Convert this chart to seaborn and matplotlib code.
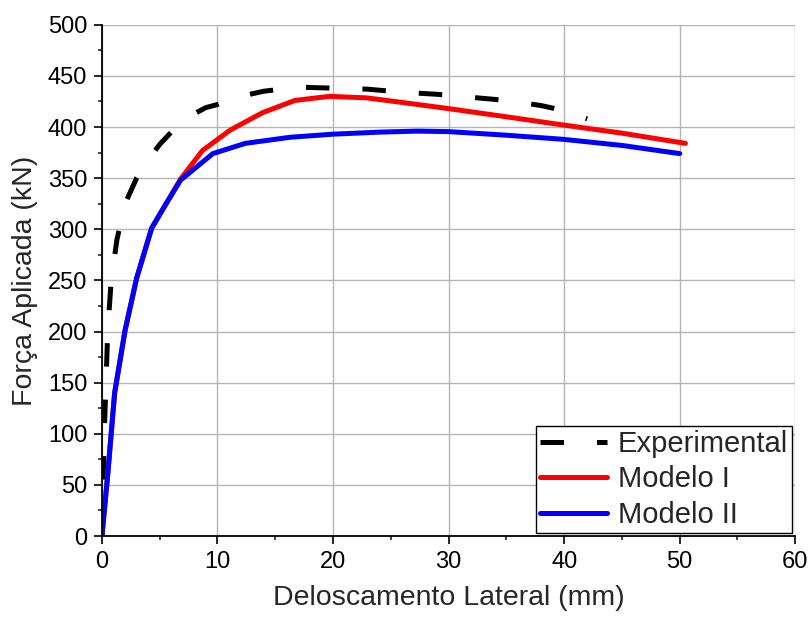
import matplotlib
matplotlib.use("Agg")
import matplotlib.pyplot as plt
import pandas as pd
import seaborn as sns
from matplotlib.ticker import MultipleLocator

# Experimental curve (dashed)
exp_x = [0, 0.1, 0.2, 0.35, 0.5, 0.8, 1.3, 2.0, 3.0, 4.0, 5.0, 6.0, 7.0, 8.0, 9.0,
         10.0, 12.0, 14.0, 17.0, 20.0, 23.0, 26.0, 29.0, 32.0, 35.0, 38.0, 40.0, 42.0]
exp_y = [0, 50, 100, 150, 200, 250, 290, 325, 350, 368, 383, 395, 405, 413, 419,
         422, 430, 435, 439, 438, 437, 434, 432, 429, 426, 421, 416, 408]

# Modelo I
m1_x = [0, 0.5, 1.1, 2.0, 3.0, 4.3, 5.5, 6.8, 8.7, 11.1, 13.9, 16.7, 19.7, 22.9,
        26.0, 30.0, 35.0, 39.9, 45.0, 50.5]
m1_y = [0, 60, 140, 201, 252, 301, 324, 349, 377, 397, 414, 426, 430, 428.5,
        424, 418, 410, 402, 394, 384]

# Modelo II
m2_x = [0, 0.5, 1.1, 2.0, 3.0, 4.3, 5.5, 6.8, 9.6, 12.4, 16.3, 20.0, 24.0, 27.3,
        30.0, 35.0, 39.9, 45.0, 50.0]
m2_y = [0, 60, 140, 201, 252, 301, 324, 348, 374, 384, 390, 393, 395, 396,
        395.5, 392, 388, 382, 374]

df = pd.concat([
    pd.DataFrame({"x": exp_x, "y": exp_y, "serie": "Experimental"}),
    pd.DataFrame({"x": m1_x, "y": m1_y, "serie": "Modelo I"}),
    pd.DataFrame({"x": m2_x, "y": m2_y, "serie": "Modelo II"}),
])

sns.set_style("ticks")
plt.rcParams["font.family"] = ["Liberation Sans", "DejaVu Sans"]

fig = plt.figure(figsize=(8.09, 6.19), dpi=100)
ax = fig.add_axes([0.126, 0.134, 0.857, 0.826])

ax.grid(True, color="#b4b4b4", linewidth=1.0)
ax.set_axisbelow(True)

sns.lineplot(data=df, x="x", y="y", hue="serie", style="serie", sort=False,
             palette={"Experimental": "black", "Modelo I": "#ff0000", "Modelo II": "#0000ff"},
             dashes={"Experimental": (4.7, 6.6), "Modelo I": "", "Modelo II": ""},
             linewidth=3.6, ax=ax, estimator=None)

ax.set_xlim(0, 60)
ax.set_ylim(0, 500)
ax.xaxis.set_major_locator(MultipleLocator(10))
ax.xaxis.set_minor_locator(MultipleLocator(5))
ax.yaxis.set_major_locator(MultipleLocator(50))
ax.yaxis.set_minor_locator(MultipleLocator(25))
ax.tick_params(which="major", direction="out", length=5.5, width=1.2, pad=5,
               labelsize=17, colors="black")
ax.tick_params(which="minor", direction="out", length=3, width=1.2)

for s in ["top", "right"]:
    ax.spines[s].set_visible(False)
for s in ["left", "bottom"]:
    ax.spines[s].set_linewidth(1.3)
    ax.spines[s].set_color("black")

ax.set_xlabel("Deloscamento Lateral (mm)", fontsize=20.5, labelpad=9)
ax.set_ylabel("Força Aplicada (kN)", fontsize=20.5, labelpad=7)

leg = ax.legend(loc="lower right", fontsize=21, frameon=True, fancybox=False,
                edgecolor="black", framealpha=1, handlelength=2.3, handletextpad=0.35,
                borderpad=0.15, labelspacing=0.25, borderaxespad=0.1)
leg.get_frame().set_linewidth(1.0)
leg.set_title(None)

plt.savefig("out.png", dpi=100)
plt.close()
